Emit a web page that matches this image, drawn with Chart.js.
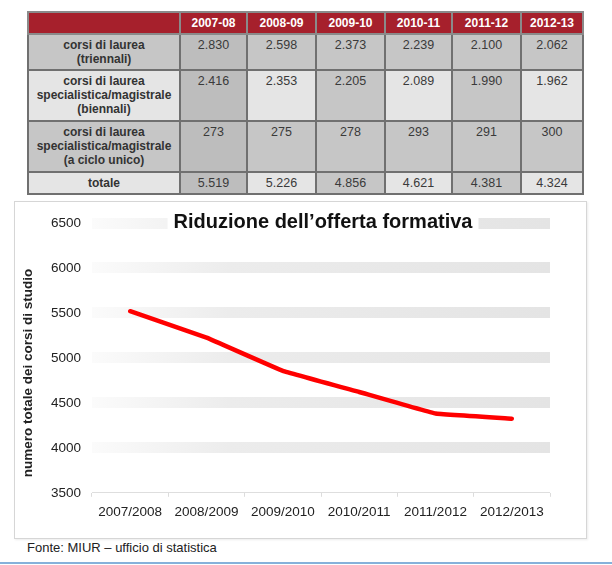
<!DOCTYPE html>
<html>
<head>
<meta charset="utf-8">
<script src="https://cdn.jsdelivr.net/npm/chart.js@4/dist/chart.umd.min.js"></script>
<style>
  html, body { margin: 0; padding: 0; background: #fff; width: 612px; height: 565px; overflow: hidden; font-family: "Liberation Sans", Arial, sans-serif; }
  #tbl { position: absolute; left: 27px; top: 11px; width: 555px; border-collapse: collapse; table-layout: fixed; border: 2px solid #707070; }
  #tbl td, #tbl th { border: 2px solid #707070; text-align: center; vertical-align: top; padding: 3px 2px 0 2px; line-height: 14px; font-size: 12.5px; color: #3a3a3a; overflow: hidden; }
  #tbl th { background: #a6202c; color: #fff; font-weight: bold; font-size: 12px; vertical-align: middle; padding: 0; height: 20px; border-color: #8a8a8a; }
  #tbl td.lab { font-weight: bold; font-size: 12px; color: #333; }
  #box { position: absolute; left: 14px; top: 201px; width: 573px; height: 338px; box-sizing: border-box; border: 1px solid #d6d6d6; box-shadow: 1px 1px 2px rgba(0,0,0,0.08); }
  #box canvas { display: block; }
  #src { position: absolute; left: 27px; top: 540px; font-size: 13px; color: #222; }
  #blue { position: absolute; left: 0; top: 562px; width: 612px; height: 2px; background: #86b1da; }
</style>
</head>
<body>
<table id="tbl">
  <colgroup>
    <col style="width:152px"><col style="width:67px"><col style="width:69px"><col style="width:69px"><col style="width:67px"><col style="width:69px"><col style="width:62px">
  </colgroup>
  <thead><tr id="hdr"></tr></thead>
  <tbody id="body"></tbody>
</table>
<div id="box"><canvas id="c" width="571" height="336"></canvas></div>
<div id="src">Fonte: MIUR – ufficio di statistica</div>
<div id="blue"></div>
<script>
// ---- data ----
const anniTabella = ['2007-08', '2008-09', '2009-10', '2010-11', '2011-12', '2012-13'];
const triennali   = [2830, 2598, 2373, 2239, 2100, 2062];
const biennali    = [2416, 2353, 2205, 2089, 1990, 1962];
const cicloUnico  = [273, 275, 278, 293, 291, 300];
const totale      = [5519, 5226, 4856, 4621, 4381, 4324];
const etichetteRighe = [
  ['corsi di laurea', '(triennali)'],
  ['corsi di laurea', 'specialistica/magistrale', '(biennali)'],
  ['corsi di laurea', 'specialistica/magistrale', '(a ciclo unico)'],
  ['totale']
];
const anniGrafico = ['2007/2008', '2008/2009', '2009/2010', '2010/2011', '2011/2012', '2012/2013'];
const titoloGrafico = 'Riduzione dell\u2019offerta formativa';
const titoloAsseY = 'numero totale dei corsi di studio';

// ---- table ----
const fmt = v => { const s = String(v); return s.length > 3 ? s.slice(0, s.length - 3) + '.' + s.slice(-3) : s; };
const hdr = document.getElementById('hdr');
hdr.appendChild(document.createElement('th'));
anniTabella.forEach(a => { const th = document.createElement('th'); th.textContent = a; hdr.appendChild(th); });
const rows = [triennali, biennali, cicloUnico, totale];
const rowHeights = [36, 51, 51, 22];
const DARK = '#c6c6c6', DARKER = '#bdbdbd', LIGHT = '#e5e5e5';
const tbody = document.getElementById('body');
rows.forEach((vals, r) => {
  const tr = document.createElement('tr');
  tr.style.height = rowHeights[r] + 'px';
  const lab = document.createElement('td');
  lab.className = 'lab';
  lab.innerHTML = etichetteRighe[r].join('<br>');
  lab.style.background = (r % 2 === 0) ? DARK : LIGHT;
  if (r === 3) { lab.style.verticalAlign = 'middle'; lab.style.paddingTop = '0'; }
  tr.appendChild(lab);
  vals.forEach((v, c) => {
    const td = document.createElement('td');
    td.textContent = fmt(v);
    let bg;
    if (c === 0) bg = DARKER;
    else if (r % 2 === 0) bg = DARK;
    else bg = (c % 2 === 0) ? DARK : LIGHT;
    td.style.background = bg;
    if (r === 3) { td.style.verticalAlign = 'middle'; td.style.paddingTop = '0'; }
    tr.appendChild(td);
  });
  tbody.appendChild(tr);
});

// ---- chart ----
const FONT = '"Liberation Sans", Arial, sans-serif';
const bandColor = (c) => {
  const chart = c.chart;
  const a = chart.chartArea;
  if (c.tick && c.tick.value === 3500) return '#dedede';
  if (!a) return '#e6e6e6';
  const g = chart.ctx.createLinearGradient(a.left, 0, a.right, 0);
  g.addColorStop(0, '#fbfbfb');
  g.addColorStop(0.3, '#ececec');
  g.addColorStop(1, '#e4e4e4');
  return g;
};

const textPlugin = {
  id: 'textPlugin',
  afterDraw(chart) {
    const ctx = chart.ctx;
    ctx.save();
    ctx.font = 'bold 20px ' + FONT;
    const w = ctx.measureText(titoloGrafico).width;
    const cx = 308, cy = 20;
    ctx.fillStyle = '#ffffff';
    ctx.fillRect(cx - w / 2 - 6, cy - 12, w + 12, 24);
    ctx.fillStyle = '#111';
    ctx.textAlign = 'center';
    ctx.textBaseline = 'middle';
    ctx.fillText(titoloGrafico, cx, cy);
    ctx.translate(13, 171);
    ctx.rotate(-Math.PI / 2);
    ctx.font = 'bold 13.5px ' + FONT;
    ctx.fillStyle = '#222';
    ctx.fillText(titoloAsseY, 0, 0);
    ctx.restore();
  }
};

new Chart(document.getElementById('c'), {
  type: 'line',
  data: {
    labels: anniGrafico,
    datasets: [{
      data: totale,
      borderColor: '#ff0000',
      borderWidth: 4.5,
      pointRadius: 0,
      tension: 0.05,
      borderCapStyle: 'round',
      borderJoinStyle: 'round',
      fill: false
    }]
  },
  options: {
    responsive: false,
    animation: false,
    layout: { padding: { top: 21, right: 36, bottom: 11, left: 0 } },
    plugins: { legend: { display: false }, tooltip: { enabled: false }, title: { display: false } },
    scales: {
      x: {
        offset: true,
        grid: { display: true, offset: true, drawOnChartArea: false, drawTicks: true, tickLength: 4, color: '#dcdcdc' },
        border: { display: false },
        ticks: { color: '#222', font: { family: FONT, size: 13.5 }, padding: 7, maxRotation: 0 }
      },
      y: {
        min: 3500, max: 6500,
        afterFit(s) { s.width = 77; },
        grid: { color: bandColor, lineWidth: (c) => (c.tick && c.tick.value === 3500) ? 1 : 11, drawTicks: false },
        border: { display: false },
        ticks: { stepSize: 500, color: '#222', padding: 11, font: { family: FONT, size: 13.5 }, callback: (v) => String(v) }
      }
    }
  },
  plugins: [textPlugin]
});
</script>
</body>
</html>
